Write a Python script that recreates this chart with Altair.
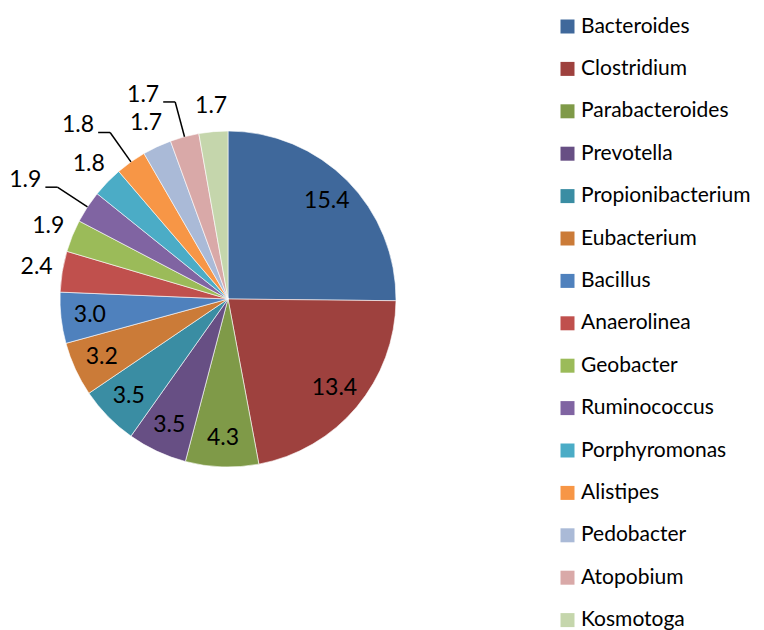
import altair as alt
import pandas as pd

genera = ["Bacteroides", "Clostridium", "Parabacteroides", "Prevotella",
          "Propionibacterium", "Eubacterium", "Bacillus", "Anaerolinea",
          "Geobacter", "Ruminococcus", "Porphyromonas", "Alistipes",
          "Pedobacter", "Atopobium", "Kosmotoga"]
values = [15.4, 13.4, 4.3, 3.5, 3.5, 3.2, 3.0, 2.4, 1.9, 1.9, 1.8, 1.8, 1.7, 1.7, 1.7]
colors = ["#3F689B", "#9E413E", "#7F9A48", "#674F84", "#3A8DA3", "#CB7B38",
          "#4F81BD", "#C0504D", "#9BBB59", "#8064A2", "#4BACC6", "#F79646",
          "#AABAD7", "#D9A9A8", "#C5D6AC"]
leader_genera = ["Ruminococcus", "Alistipes", "Atopobium"]

W, H = 748, 622          # whole drawing area (page minus 8px margin)
CX, CY = 220, 291        # pie centre inside the view
R = 168
FONT = "Lato"

df = pd.DataFrame({"genus": genera, "value": values, "i": list(range(len(genera)))})

lead_list = "[" + ",".join("'%s'" % g for g in leader_genera) + "]"

xs = alt.Scale(domain=[-CX, W - CX], nice=False)
ys = alt.Scale(domain=[-(H - CY), CY], nice=False)

base = (
    alt.Chart(df)
    .transform_joinaggregate(total="sum(value)")
    .transform_window(cum="sum(value)", sort=[alt.SortField("i")], frame=[None, 0])
    .transform_calculate(
        mid="(datum.cum - datum.value/2) / datum.total * 2 * PI",
        kind="indexof(%s, datum.genus) >= 0 ? 'lead' : (datum.value >= 3 ? 'in' : 'out')" % lead_list,
    )
    .transform_calculate(
        lr="datum.kind == 'in' ? 139 : (datum.kind == 'out' ? 194 : 204)",
    )
    .transform_calculate(
        ex=f"{R} * sin(datum.mid)",
        ey=f"{R} * cos(datum.mid)",
        lx="datum.lr * sin(datum.mid)",
        ly="datum.lr * cos(datum.mid)",
    )
    .transform_calculate(
        hx="datum.lx - 12",
        tx="datum.kind == 'lead' ? datum.lx - 16 : datum.lx",
        ty="datum.kind == 'lead' ? datum.ly + 7 : datum.ly",
    )
)

pie = alt.Chart(df).mark_arc(outerRadius=R, stroke="#ffffff", strokeWidth=0.6).encode(
    x=alt.value(CX),
    y=alt.value(CY),
    theta=alt.Theta("value:Q", stack=True),
    color=alt.Color(
        "genus:N",
        scale=alt.Scale(domain=genera, range=colors),
        sort=None,
        legend=alt.Legend(
            title=None, orient="none", legendX=549, legendY=8,
            symbolType="square", symbolSize=196, symbolStrokeWidth=0,
            labelFont=FONT, labelFontSize=21, labelColor="#000000",
            labelOffset=3, rowPadding=20.4, padding=0, labelLimit=300,
        ),
    ),
    order=alt.Order("i:Q"),
)

labels_c = base.transform_filter("datum.kind != 'lead'").mark_text(
    font=FONT, fontSize=23, color="#000000", align="center", baseline="middle"
).encode(
    x=alt.X("tx:Q", scale=xs, axis=None),
    y=alt.Y("ty:Q", scale=ys, axis=None),
    text=alt.Text("value:Q", format=".1f"),
)

labels_l = base.transform_filter("datum.kind == 'lead'").mark_text(
    font=FONT, fontSize=23, color="#000000", align="right", baseline="middle"
).encode(
    x=alt.X("tx:Q", scale=xs, axis=None),
    y=alt.Y("ty:Q", scale=ys, axis=None),
    text=alt.Text("value:Q", format=".1f"),
)

lead1 = base.transform_filter("datum.kind == 'lead'").mark_rule(color="#000000", strokeWidth=1.5).encode(
    x=alt.X("ex:Q", scale=xs, axis=None),
    y=alt.Y("ey:Q", scale=ys, axis=None),
    x2="lx:Q",
    y2="ly:Q",
)
lead2 = base.transform_filter("datum.kind == 'lead'").mark_rule(color="#000000", strokeWidth=1.5).encode(
    x=alt.X("lx:Q", scale=xs, axis=None),
    y=alt.Y("ly:Q", scale=ys, axis=None),
    x2="hx:Q",
    y2="ly:Q",
)

chart = (
    alt.layer(pie, lead1, lead2, labels_c, labels_l)
    .properties(width=W, height=H, padding=0, autosize=alt.AutoSizeParams(type="none"))
    .configure_view(stroke=None)
)

chart.save("out.html", embed_options={"renderer": "svg", "actions": False})
